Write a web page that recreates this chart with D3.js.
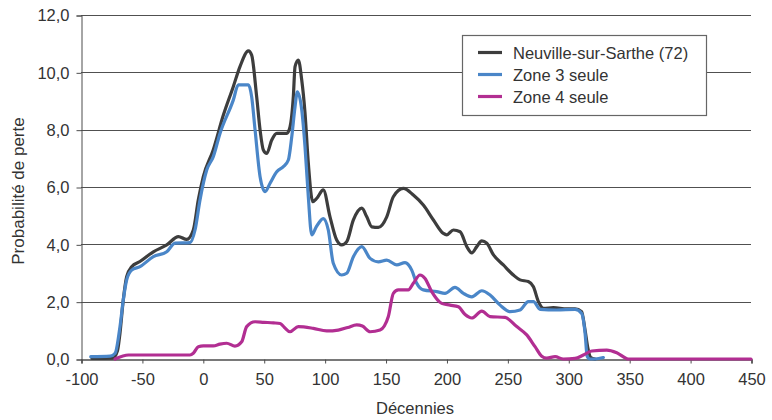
<!DOCTYPE html>
<html>
<head>
<meta charset="utf-8">
<script src="https://cdn.jsdelivr.net/npm/d3@7"></script>
<style>
  html, body { margin: 0; padding: 0; background: #fff; }
  svg { display: block; font-family: "Liberation Sans", Arial, sans-serif; }
</style>
</head>
<body>
<svg id="chart" width="772" height="420"></svg>
<script>
// ---- Data ----
const seriesNames = ["Neuville-sur-Sarthe (72)", "Zone 3 seule", "Zone 4 seule"];

const neuvilleX = [-91, -74, -70, -68, -65.3, -62.5, -58.4, -51.6, -40.6, -29.6, -20, -13.2, -7.8, -3.7, 0.4, 8.6, 16.8, 25, 30.5, 37.4, 40.1, 44.2, 47, 49.7, 52.5, 56.6, 60.7, 68.9, 71.6, 74.3, 75.7, 78.4, 81.2, 83.9, 86.6, 90.2, 93.5, 98.9, 104.4, 109.9, 114, 118.1, 123.6, 130.5, 134.6, 138.7, 144.1, 151, 156.4, 164.6, 172.8, 181, 189.3, 197.5, 200.2, 205.7, 211.2, 216.7, 220.8, 224.9, 229, 233.1, 238.6, 246.7, 254.9, 260.4, 267.2, 271.4, 275.5, 279.6, 287.8, 298.8, 305.6, 311, 313.8, 316, 318.5, 322];
const neuvilleY = [0.02, 0.03, 0.3, 0.9, 2.06, 2.87, 3.22, 3.4, 3.74, 3.98, 4.27, 4.17, 4.5, 5.55, 6.36, 7.3, 8.5, 9.5, 10.2, 10.75, 10.6, 9.15, 7.99, 7.29, 7.17, 7.64, 7.87, 7.87, 8.1, 9.15, 10.2, 10.43, 9.73, 8.58, 6.84, 5.49, 5.6, 5.9, 4.96, 4.15, 3.98, 4.09, 4.85, 5.26, 4.96, 4.61, 4.59, 4.96, 5.66, 5.95, 5.72, 5.37, 4.85, 4.38, 4.33, 4.5, 4.44, 3.92, 3.7, 3.92, 4.12, 4.04, 3.63, 3.28, 2.93, 2.76, 2.7, 2.52, 2.0, 1.77, 1.79, 1.75, 1.75, 1.65, 1.0, 0.4, 0.05, 0];

const zone3X = [-92, -76, -72, -68, -65.3, -62.5, -58.4, -51.6, -40.6, -29.6, -22.8, -10.5, -6.4, -2.3, 3.2, 8.6, 14.1, 25, 29.1, 37.4, 40.1, 42.9, 47, 51.1, 55.2, 60.7, 66.1, 70.2, 73, 75.7, 77.6, 81.2, 83.9, 86.6, 89.4, 93, 98.9, 103, 107.1, 114, 118.1, 123.6, 130.5, 137.3, 144.1, 151, 159.2, 166, 171.5, 175.6, 181, 192, 198.8, 207, 213.9, 220.8, 229, 235.8, 244, 252.2, 260.4, 267.2, 271.4, 276.9, 290.5, 305.6, 311, 313.8, 315.5, 318, 322, 328.8];
const zone3Y = [0.08, 0.1, 0.2, 1.13, 2.06, 2.76, 3.1, 3.22, 3.57, 3.74, 4.04, 4.06, 4.5, 5.55, 6.59, 7.06, 7.87, 9.03, 9.56, 9.56, 9.15, 7.99, 6.36, 5.84, 6.13, 6.53, 6.71, 6.94, 7.75, 8.8, 9.32, 8.69, 7.4, 5.66, 4.33, 4.6, 4.9, 4.5, 3.34, 2.93, 2.99, 3.57, 3.92, 3.51, 3.39, 3.45, 3.28, 3.36, 3.1, 2.64, 2.41, 2.35, 2.29, 2.5, 2.29, 2.17, 2.38, 2.23, 1.88, 1.65, 1.71, 2.0, 2.0, 1.73, 1.71, 1.73, 1.59, 0.9, 0.1, 0.0, 0.0, 0.05];

const zone4X = [-72, -61, -10.5, -7.8, -3.7, 0.4, 8.6, 14, 19.6, 26.4, 31.9, 36, 42.9, 50, 58, 63.4, 67, 71.6, 78.4, 90.7, 101.7, 111.2, 119, 126.3, 131, 137.3, 145.5, 149, 152.3, 156.4, 160.5, 168.7, 172.8, 178.3, 182.4, 187.9, 196.1, 203, 209.8, 215.3, 220.8, 229, 235.8, 248.1, 257.7, 265.9, 272.7, 278.2, 282.3, 289.2, 296, 305.6, 312.4, 319.3, 331.6, 339.8, 349.4, 450];
const zone4Y = [0, 0.14, 0.14, 0.2, 0.43, 0.46, 0.46, 0.52, 0.55, 0.45, 0.6, 1.13, 1.3, 1.28, 1.26, 1.24, 1.1, 0.95, 1.13, 1.07, 0.98, 1.01, 1.1, 1.19, 1.15, 0.95, 1.01, 1.15, 1.48, 2.29, 2.41, 2.41, 2.64, 2.93, 2.81, 2.35, 1.94, 1.88, 1.82, 1.55, 1.43, 1.67, 1.48, 1.45, 1.13, 0.84, 0.43, 0.1, 0.03, 0.08, 0.0, 0.02, 0.14, 0.28, 0.31, 0.22, 0.0, 0.0];

const xTicks = [-100, -50, 0, 50, 100, 150, 200, 250, 300, 350, 400, 450];
const yTicks = [0, 2, 4, 6, 8, 10, 12];
const yTickLabels = ["0,0", "2,0", "4,0", "6,0", "8,0", "10,0", "12,0"];
const xTitle = "Décennies";
const yTitle = "Probabilité de perte";

// ---- Layout ----
const FONT = '"Liberation Sans", Arial, sans-serif';
const FS = "16.5px";
const svg = d3.select("#chart");
const L = 81, R = 751, T = 15, B = 359;
const x = d3.scaleLinear().domain([-100, 450]).range([L, R]);
const y = d3.scaleLinear().domain([0, 12]).range([B, T]);
const colors = ["#3d3d3d", "#4a86c8", "#b22e92"];
const axisColor = "#4d4d4d";
const textColor = "#333";

// gridlines
svg.append("g").selectAll("line").data(yTicks.filter(d => d > 0)).join("line")
  .attr("x1", L).attr("x2", R)
  .attr("y1", d => Math.round(y(d)) + 0.5).attr("y2", d => Math.round(y(d)) + 0.5)
  .attr("stroke", "#505050").attr("stroke-width", 1);

// y axis
const yAxis = d3.axisLeft(y).tickValues(yTicks).tickSize(5).tickPadding(7)
  .tickFormat((d, i) => yTickLabels[i]);
const gy = svg.append("g").attr("transform", `translate(${L + 0.5},0.5)`).call(yAxis);
gy.select(".domain").attr("stroke", axisColor);
gy.selectAll(".tick line").attr("stroke", axisColor);
gy.selectAll(".tick text").attr("fill", textColor).style("font-size", FS).style("font-family", FONT);

// x axis
const xAxis = d3.axisBottom(x).tickValues(xTicks).tickSize(4).tickPadding(10)
  .tickFormat(d => String(d));
const gx = svg.append("g").attr("transform", `translate(0.5,${B + 0.5})`).call(xAxis);
gx.select(".domain").attr("stroke", axisColor).attr("stroke-width", 1.5);
gx.selectAll(".tick line").attr("stroke", axisColor);
gx.selectAll(".tick text").attr("fill", textColor).style("font-size", FS).style("font-family", FONT);

// lines
const series = [
  { name: seriesNames[0], xs: neuvilleX, ys: neuvilleY },
  { name: seriesNames[1], xs: zone3X, ys: zone3Y },
  { name: seriesNames[2], xs: zone4X, ys: zone4Y }
];
const line = d3.line().x(d => x(d[0])).y(d => y(d[1])).curve(d3.curveMonotoneX);
series.forEach((s, i) => {
  const pts = s.xs.map((v, j) => [v, s.ys[j]]);
  svg.append("path").datum(pts)
    .attr("d", line)
    .attr("fill", "none")
    .attr("stroke", colors[i])
    .attr("stroke-width", 3.2)
    .attr("stroke-linejoin", "round")
    .attr("stroke-linecap", "round");
});

// legend
const lg = svg.append("g");
lg.append("rect").attr("x", 462.5).attr("y", 35.5).attr("width", 244).attr("height", 80)
  .attr("fill", "#fff").attr("stroke", "#666").attr("stroke-width", 1.2);
seriesNames.forEach((n, i) => {
  const yy = 52.5 + i * 22;
  lg.append("line").attr("x1", 478).attr("x2", 502).attr("y1", yy).attr("y2", yy)
    .attr("stroke", colors[i]).attr("stroke-width", 3.2);
  lg.append("text").attr("x", 513).attr("y", yy + 6).text(n)
    .attr("fill", textColor).style("font-size", FS).style("font-family", FONT);
});

// titles
svg.append("text").attr("x", 415).attr("y", 414).attr("text-anchor", "middle")
  .attr("fill", textColor).style("font-size", FS).style("font-family", FONT).text(xTitle);
svg.append("text").attr("transform", "translate(24,191) rotate(-90)")
  .attr("text-anchor", "middle").attr("fill", textColor)
  .style("font-size", "17px").style("font-family", FONT).text(yTitle);
</script>
</body>
</html>
